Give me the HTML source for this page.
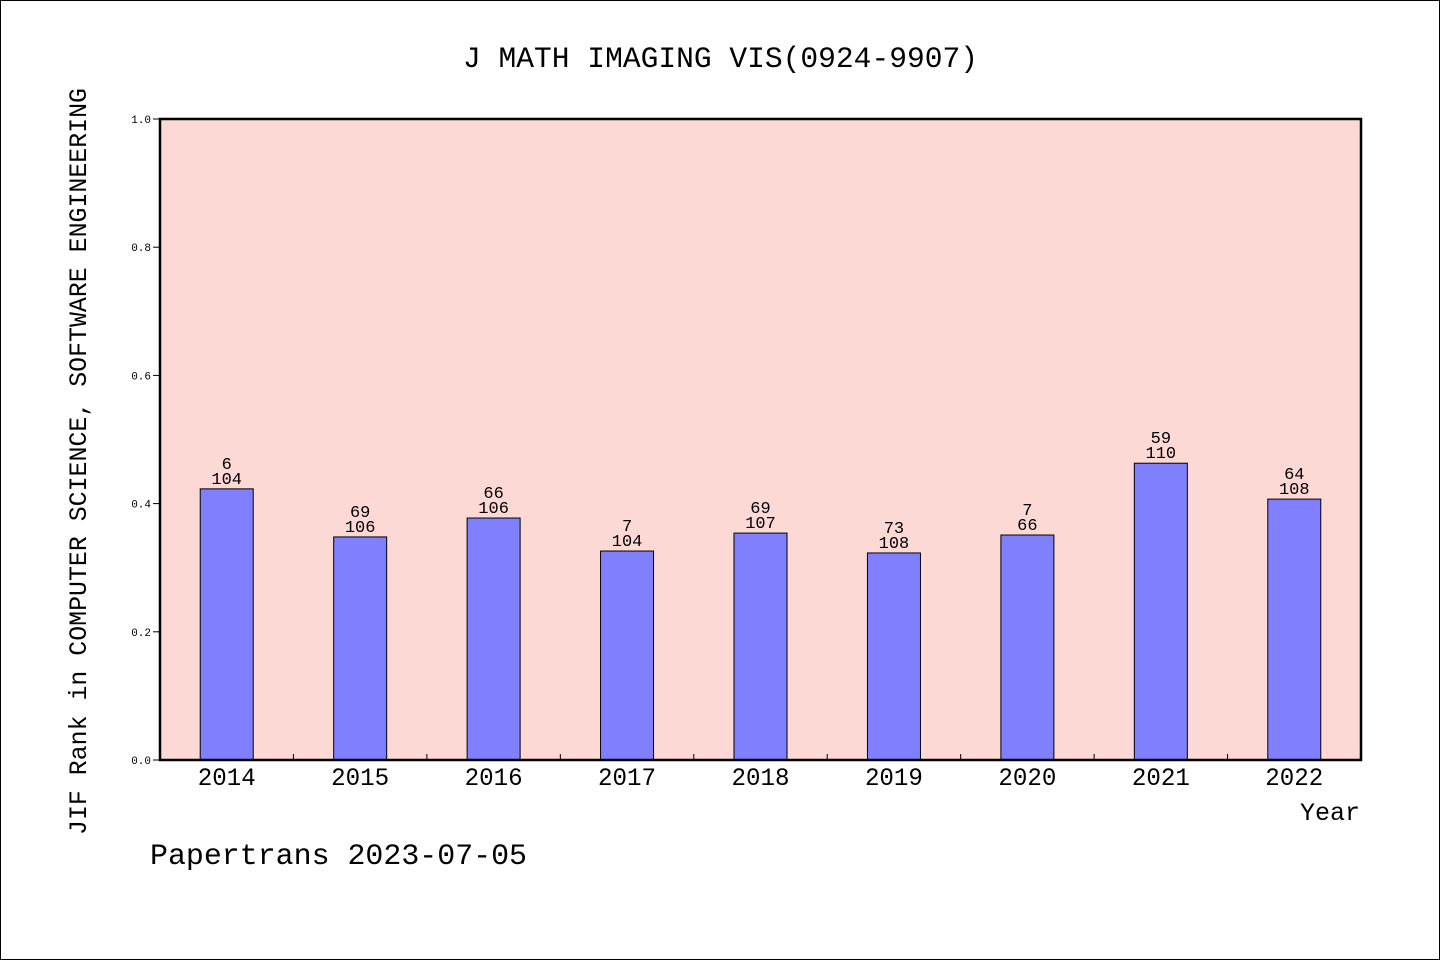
<!DOCTYPE html>
<html><head><meta charset="utf-8"><style>
body{margin:0;background:#fff}
svg{display:block;font-family:"WenQuanYi Zen Hei","Liberation Mono",monospace}
</style></head><body>
<svg id="chart" width="1440" height="960" viewBox="0 0 1440 960">
<rect x="0.5" y="0.5" width="1439" height="959" fill="#fff" stroke="#000"/>
<text x="463" y="67" font-size="30" textLength="515" lengthAdjust="spacingAndGlyphs">J MATH IMAGING VIS(0924-9907)</text>
<rect x="160" y="119" width="1201" height="641" fill="#fdd9d6"/>
<g id="bars"></g>
<g id="axes"></g>
<rect x="160" y="119" width="1201" height="641" fill="none" stroke="#000" stroke-width="2.5"/>
<text transform="translate(86,835) rotate(-90)" font-size="25" textLength="747" lengthAdjust="spacingAndGlyphs">JIF Rank in COMPUTER SCIENCE, SOFTWARE ENGINEERING</text>
<text x="1360" y="820" font-size="25" text-anchor="end">Year</text>
<text x="150" y="864" font-size="30" textLength="377" lengthAdjust="spacingAndGlyphs">Papertrans 2023-07-05</text>
</svg>
<script>
const years=["2014","2015","2016","2017","2018","2019","2020","2021","2022"];
const values=[0.423,0.348,0.3775,0.326,0.354,0.323,0.351,0.463,0.407];
const ranks=["6","69","66","7","69","73","7","59","64"];
const totals=["104","106","106","104","107","108","66","110","108"];
const yTicks=[0,0.2,0.4,0.6,0.8,1.0];
const X0=160,W=1201,Y0=760,H=641,NS="http://www.w3.org/2000/svg";
const step=W/years.length,bw=53;
const xs=i=>X0+step*(i+0.5), ys=v=>Y0-v*H;
function mk(t,a,txt){const e=document.createElementNS(NS,t);for(const k in a)e.setAttribute(k,a[k]);if(txt!=null)e.textContent=txt;return e;}
const gb=document.getElementById('bars'),ga=document.getElementById('axes');
years.forEach((y,i)=>{
 const b=mk('rect',{x:xs(i)-bw/2,y:ys(values[i]),width:bw,height:values[i]*H,fill:'#8080ff',stroke:'#000','stroke-width':1});
 
 
 gb.appendChild(b);
 const t1=mk('text',{x:xs(i),y:ys(values[i])-20,'font-size':17,'text-anchor':'middle'},ranks[i]);
 
 
 gb.appendChild(t1);
 const t2=mk('text',{x:xs(i),y:ys(values[i])-5,'font-size':17,'text-anchor':'middle'},totals[i]);
 
 
 gb.appendChild(t2);
 const xl=mk('text',{x:xs(i),y:785,'font-size':25,'text-anchor':'middle',textLength:58,lengthAdjust:'spacingAndGlyphs'},y);
 
 
 ga.appendChild(xl);
 if(i>0){const tk=mk('line',{x1:X0+step*i,x2:X0+step*i,y1:Y0,y2:Y0-6,stroke:'#000'});
 
 
 ga.appendChild(tk);}
});
yTicks.forEach(v=>{
 const l=mk('line',{x1:153,x2:160,y1:ys(v),y2:ys(v),stroke:'#000'});
 
 
 ga.appendChild(l);
 const t=mk('text',{x:151,y:ys(v)+4,'font-size':11,'text-anchor':'end'},v.toFixed(1));
 
 
 ga.appendChild(t);
});
</script>
</body></html>
